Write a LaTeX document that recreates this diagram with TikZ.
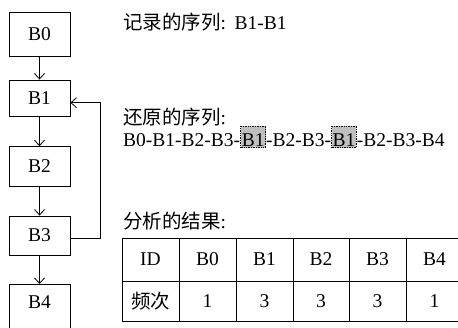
\documentclass[tikz,border=0pt]{standalone}
\usepackage{fontspec}
\setmainfont{Liberation Serif}
\newfontfamily\cjk{Noto Sans CJK SC}
\usetikzlibrary{arrows.meta}
\newcommand{\cjkf}{\fontsize{19.5}{22}\cjk}
\begin{document}
\begin{tikzpicture}[x=1pt,y=-1pt,
  blk/.style={draw,line width=0.8pt,minimum width=61pt,inner sep=0pt,font=\fontsize{19.5}{22}\selectfont},
  arr/.style={-{Straight Barb[length=5.5pt,width=10pt]},line width=0.8pt},
  txt/.style={inner sep=0pt,anchor=base west,font=\fontsize{19.5}{22}\selectfont},
  hl/.style={draw,densely dotted,line width=0.7pt,fill=gray!50,inner sep=0pt,inner xsep=1pt,
    text height=20pt,text depth=1.5pt,anchor=base west,font=\fontsize{19.5}{22}\selectfont},
  cell/.style={inner sep=0pt,font=\fontsize{19.5}{22}\selectfont},
  grid/.style={line width=0.9pt}]
\clip (0,0) rectangle (458,327);
% flow blocks
\node[blk,minimum height=43.3pt] (B0) at (39.5,34.3) {B0};
\node[blk,minimum height=36.7pt] (B1) at (39.5,98.3) {B1};
\node[blk,minimum height=39.3pt] (B2) at (39.5,166.3) {B2};
\node[blk,minimum height=39pt] (B3) at (39.5,235.5) {B3};
\node[blk,anchor=north,text height=24.5pt,text depth=30pt] (B4) at (39.5,284) {B4};
\draw[arr] (B0) -- (B1);
\draw[arr] (B1) -- (B2);
\draw[arr] (B2) -- (B3);
\draw[arr] (B3) -- (B4);
\draw[arr] ([yshift=-2.5pt]B3.east) -- ++(29.5,0) |- ([yshift=-4.4pt]B1.east);
% texts
\node[txt] (rec) at (123,29.3) {{\cjkf 记录的序列}:\hspace{2pt} B1-B1};
\node[txt] (rest) at (123,124) {{\cjkf 还原的序列}:};
\node[txt] (s1) at (123,146) {B0-B1-B2-B3-};
\node[hl] (h1) at (s1.base east) {B1};
\node[txt] (s2) at (h1.base east) {-B2-B3-};
\node[hl] (h2) at (s2.base east) {B1};
\node[txt] (s3) at (h2.base east) {-B2-B3-B4};
\node[txt] (res) at (123,228) {{\cjkf 分析的结果}:};
% table
\foreach \yy in {238,281,321} \draw[grid] (122,\yy) -- (470,\yy);
\foreach \xx in {122,179,236,293,349.5,406,463} \draw[grid] (\xx,238) -- (\xx,321);
\node[cell] (tid) at (150.5,259.5) {ID};
\node[cell] (tb0) at (207.5,259.5) {B0};
\node[cell] (tb1) at (264.5,259.5) {B1};
\node[cell] (tb2) at (321,259.5) {B2};
\node[cell] (tb3) at (377.5,259.5) {B3};
\node[cell] (tb4) at (434.5,259.5) {B4};
\node[cell] (tfq) at (150.5,301) {\cjkf 频次};
\node[cell] (tf0) at (207.5,301) {1};
\node[cell] (tf1) at (264.5,301) {3};
\node[cell] (tf2) at (321,301) {3};
\node[cell] (tf3) at (377.5,301) {3};
\node[cell] (tf4) at (434.5,301) {1};
\end{tikzpicture}
\end{document}
